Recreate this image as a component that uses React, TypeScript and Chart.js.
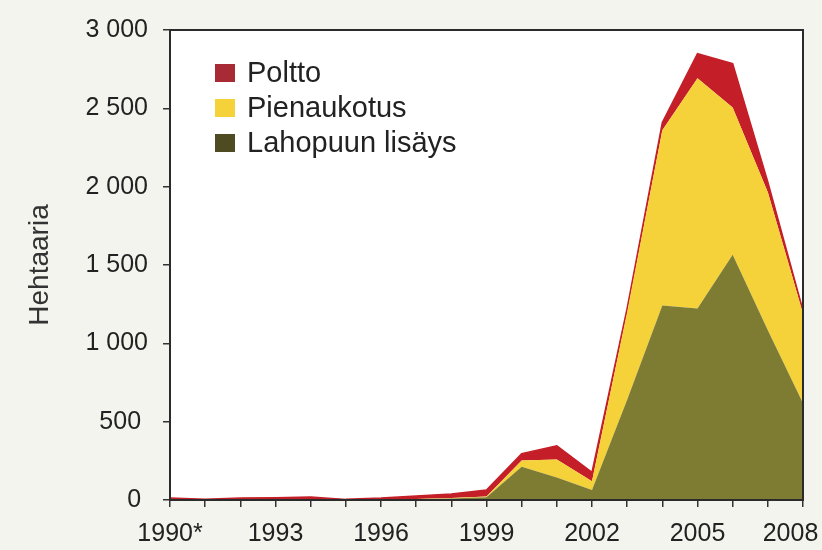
import React, { useEffect, useRef } from 'react';
import { Chart, registerables } from 'chart.js';

Chart.register(...registerables);

const years = [1990, 1991, 1992, 1993, 1994, 1995, 1996, 1997, 1998, 1999, 2000, 2001, 2002, 2003, 2004, 2005, 2006, 2007, 2008];
const tickYears = [1990, 1993, 1996, 1999, 2002, 2005, 2008];
const tickLabels = ['1990*', '1993', '1996', '1999', '2002', '2005', '2008'];

const seriesNames = ['Lahopuun lisäys', 'Pienaukotus', 'Poltto'];
const lahopuu = [0, 0, 0, 0, 0, 0, 0, 5, 10, 18, 212, 144, 64, 640, 1242, 1223, 1565, 1083, 618];
const pienaukotus = [0, 0, 0, 0, 0, 0, 0, 1, 2, 4, 40, 115, 56, 560, 1118, 1469, 940, 881, 572];
const poltto = [12, 4, 12, 15, 19, 4, 12, 19, 26, 42, 44, 87, 57, 25, 50, 157, 281, 66, 20];

const areaColors = ['#7d7c32', '#f5d13a', '#c41f28'];
const legendColors = ['#4e4a21', '#f5d13a', '#a82a35'];

const yTitle = 'Hehtaaria';
const FONT = '"Liberation Sans", Arial, Helvetica, sans-serif';
const PAGE_BG = '#f4f4ef';

function formatThousands(v: number): string {
  const s = String(Math.round(v));
  const out = s.replace(/\B(?=(\d{3})+(?!\d))/g, ' ');
  return v < 1000 ? out + ' ' : out;
}

const bgPlugin = {
  id: 'bgPlugin',
  beforeDraw(chart: any) {
    const { ctx, chartArea, width, height } = chart;
    ctx.save();
    ctx.fillStyle = PAGE_BG;
    ctx.fillRect(0, 0, width, height);
    ctx.fillStyle = '#ffffff';
    ctx.fillRect(chartArea.left, chartArea.top, chartArea.right - chartArea.left, chartArea.bottom - chartArea.top);
    ctx.restore();
  },
};

const framePlugin = {
  id: 'framePlugin',
  afterDraw(chart: any) {
    const { ctx, chartArea } = chart;
    ctx.save();
    ctx.strokeStyle = '#2b2b2b';
    ctx.lineWidth = 2;
    ctx.strokeRect(chartArea.left, chartArea.top, chartArea.right - chartArea.left, chartArea.bottom - chartArea.top);
    ctx.restore();
  },
};

const legendPlugin = {
  id: 'customLegend',
  afterDraw(chart: any) {
    const { ctx, chartArea } = chart;
    const order = [2, 1, 0];
    ctx.save();
    ctx.font = `29px ${FONT}`;
    ctx.textBaseline = 'middle';
    ctx.textAlign = 'left';
    order.forEach((di, i) => {
      const ds = chart.data.datasets[di];
      const cy = chartArea.top + 43 + i * 35;
      const x = chartArea.left + 45;
      ctx.fillStyle = legendColors[di];
      ctx.fillRect(x, cy - 9, 20, 18);
      ctx.fillStyle = '#222222';
      ctx.fillText(ds.label, x + 32, cy + 1);
    });
    ctx.restore();
  },
};

export default function App() {
  const canvasRef = useRef<HTMLCanvasElement | null>(null);

  useEffect(() => {
    document.body.style.margin = '0';
    document.body.style.background = PAGE_BG;
    const canvas = canvasRef.current;
    if (!canvas) return;

    const chart = new Chart(canvas, {
      type: 'line',
      data: {
        labels: years.map(String),
        datasets: [
          {
            label: seriesNames[0],
            data: lahopuu,
            backgroundColor: areaColors[0],
            borderColor: areaColors[0],
            borderWidth: 0,
            fill: 'origin',
            pointRadius: 0,
            tension: 0,
          },
          {
            label: seriesNames[1],
            data: pienaukotus,
            backgroundColor: areaColors[1],
            borderColor: areaColors[1],
            borderWidth: 0,
            fill: '-1',
            pointRadius: 0,
            tension: 0,
          },
          {
            label: seriesNames[2],
            data: poltto,
            backgroundColor: areaColors[2],
            borderColor: areaColors[2],
            borderWidth: 1.5,
            fill: '-1',
            pointRadius: 0,
            tension: 0,
          },
        ],
      },
      options: {
        responsive: false,
        animation: false,
        devicePixelRatio: 1,
        layout: { padding: { top: 29, right: 19, left: 0, bottom: 0 } },
        plugins: {
          legend: { display: false },
          tooltip: { enabled: false },
        },
        scales: {
          x: {
            type: 'category',
            offset: false,
            grid: {
              display: true,
              drawOnChartArea: false,
              drawTicks: true,
              tickLength: 7,
              color: '#333333',
              lineWidth: 1.5,
            },
            border: { display: true, color: '#2b2b2b', width: 2 },
            ticks: {
              autoSkip: false,
              maxRotation: 0,
              minRotation: 0,
              padding: 12,
              color: '#222222',
              font: { family: FONT, size: 25 },
              callback: (_v: any, idx: number) => {
                const k = tickYears.indexOf(years[idx]);
                if (k < 0) return '';
                return idx === years.length - 1 ? tickLabels[k] + '\u2003' : tickLabels[k];
              },
            },
            afterFit: (scale: any) => {
              scale.height = 50;
              scale.paddingRight = 0;
              scale.paddingLeft = 0;
            },
          },
          y: {
            stacked: true,
            min: 0,
            max: 3000,
            grid: {
              display: true,
              drawOnChartArea: false,
              drawTicks: true,
              tickLength: 7,
              color: '#333333',
              lineWidth: 1.5,
            },
            border: { display: true, color: '#2b2b2b', width: 2 },
            ticks: {
              stepSize: 500,
              padding: 15,
              color: '#222222',
              font: { family: FONT, size: 25 },
              callback: (v: any) => formatThousands(Number(v)),
            },
            title: {
              display: true,
              text: yTitle,
              color: '#333333',
              font: { family: FONT, size: 28 },
              padding: { top: 23, bottom: 0 },
            },
            afterFit: (scale: any) => {
              scale.width = 170;
            },
          },
        },
      },
      plugins: [bgPlugin, framePlugin, legendPlugin],
    } as any);

    return () => {
      chart.destroy();
    };
  }, []);

  return (
    <div style={{ width: 822, height: 550, background: PAGE_BG }}>
      <canvas ref={canvasRef} width={822} height={550} style={{ display: 'block', width: 822, height: 550 }} />
    </div>
  );
}
